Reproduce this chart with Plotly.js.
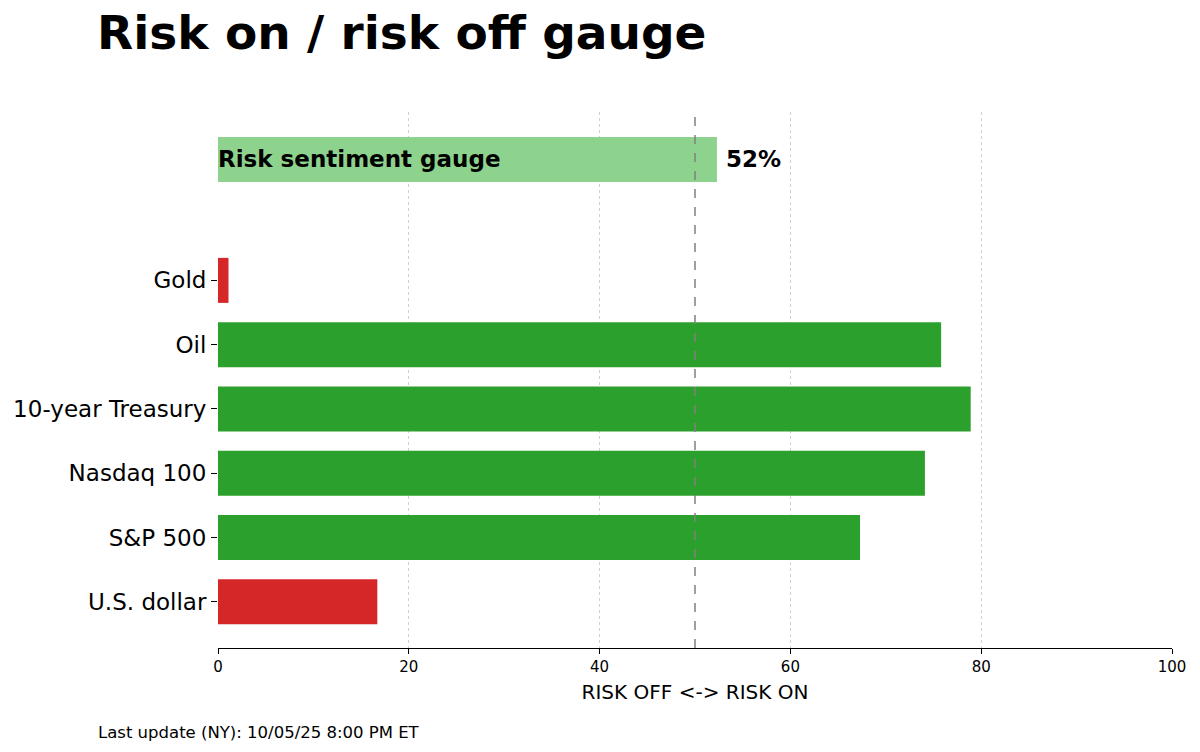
<!DOCTYPE html>
<html>
<head>
<meta charset="utf-8">
<script src="https://cdn.plot.ly/plotly-3.0.1.min.js"></script>
<style>html,body{margin:0;padding:0;background:#fff;}#chart{width:1200px;height:752px;}</style>
</head>
<body>
<div id="chart"></div>
<script>
// Data
var categories = ["U.S. dollar", "S&P 500", "Nasdaq 100", "10-year Treasury", "Oil", "Gold"];
var scores = [16.7, 67.3, 74.1, 78.9, 75.8, 1.1];
var riskOnFlags = [false, true, true, true, true, false];
var gaugeLabel = "Risk sentiment gauge";
var gaugeValue = 52.3;
var neutralLine = 50;
var footerText = "Last update (NY): 10/05/25 8:00 PM ET";

var positions = categories.map(function(_, i){ return i; });
var gaugePos = 6.88;
var FONT = "DejaVu Sans, sans-serif";

var traces = [
  {
    type: "bar", orientation: "h",
    x: scores, y: positions,
    width: 0.7,
    marker: {color: riskOnFlags.map(function(f){ return f ? "#2ca02c" : "#d62728"; }),
             line: {width: 0}},
    hoverinfo: "skip", showlegend: false
  },
  {
    type: "bar", orientation: "h",
    x: [gaugeValue], y: [gaugePos],
    width: 0.7,
    marker: {color: "#8dd38d", line: {width: 0}},
    hoverinfo: "skip", showlegend: false
  }
];

var layout = {
  width: 1200, height: 752,
  paper_bgcolor: "#fff", plot_bgcolor: "#fff",
  margin: {l: 218, r: 28, t: 112, b: 104},
  font: {family: FONT, color: "#000"},
  barmode: "overlay",
  title: {text: "<b>Risk on / risk off gauge</b>", x: 97/1200, xanchor: "left", xref: "container",
          y: 1 - 33/752, yanchor: "middle", yref: "container", pad: {l: 0, r: 0, t: 0, b: 0},
          font: {family: FONT, size: 47, color: "#000"}},
  xaxis: {
    range: [0, 100], tickvals: [0, 20, 40, 60, 80, 100],
    showgrid: true, gridcolor: "#d0d0d0", griddash: "dot", gridwidth: 1,
    zeroline: false,
    showline: true, linecolor: "#000", linewidth: 1.3,
    ticks: "outside", ticklen: 5, tickcolor: "#000", tickwidth: 1,
    tickfont: {size: 15, family: FONT},
    title: {text: "RISK OFF <-> RISK ON", font: {size: 20, family: FONT}, standoff: 9},
    fixedrange: true
  },
  yaxis: {
    range: [-0.72, 7.62],
    tickvals: positions, ticktext: categories,
    showgrid: false, zeroline: false, showline: false,
    ticks: "outside", ticklen: 6, tickcolor: "#000", tickwidth: 1,
    ticklabelstandoff: 0,
    tickfont: {size: 23, family: FONT},
    fixedrange: true
  },
  shapes: [
    {type: "line", xref: "x", yref: "paper", x0: neutralLine, x1: neutralLine, y0: 0, y1: 1,
     line: {color: "#808080", width: 1.5, dash: "dash"}, layer: "above"}
  ],
  annotations: [
    {xref: "x", yref: "y", x: 0, y: gaugePos, text: "<b>" + gaugeLabel + "</b>",
     showarrow: false, xanchor: "left", yanchor: "middle", xshift: -2, yshift: 1,
     font: {size: 23, family: FONT, color: "#000"}},
    {xref: "x", yref: "y", x: gaugeValue, y: gaugePos, text: "<b>" + Math.round(gaugeValue) + "%</b>",
     showarrow: false, xanchor: "left", yanchor: "middle", xshift: 7, yshift: 1,
     font: {size: 23, family: FONT, color: "#000"}},
    {xref: "paper", yref: "paper", x: -122/954, y: -84/536, text: footerText,
     showarrow: false, xanchor: "left", yanchor: "middle",
     font: {size: 16.5, family: FONT, color: "#000"}}
  ]
};

Plotly.newPlot("chart", traces, layout, {displayModeBar: false, staticPlot: true});
</script>
</body>
</html>
